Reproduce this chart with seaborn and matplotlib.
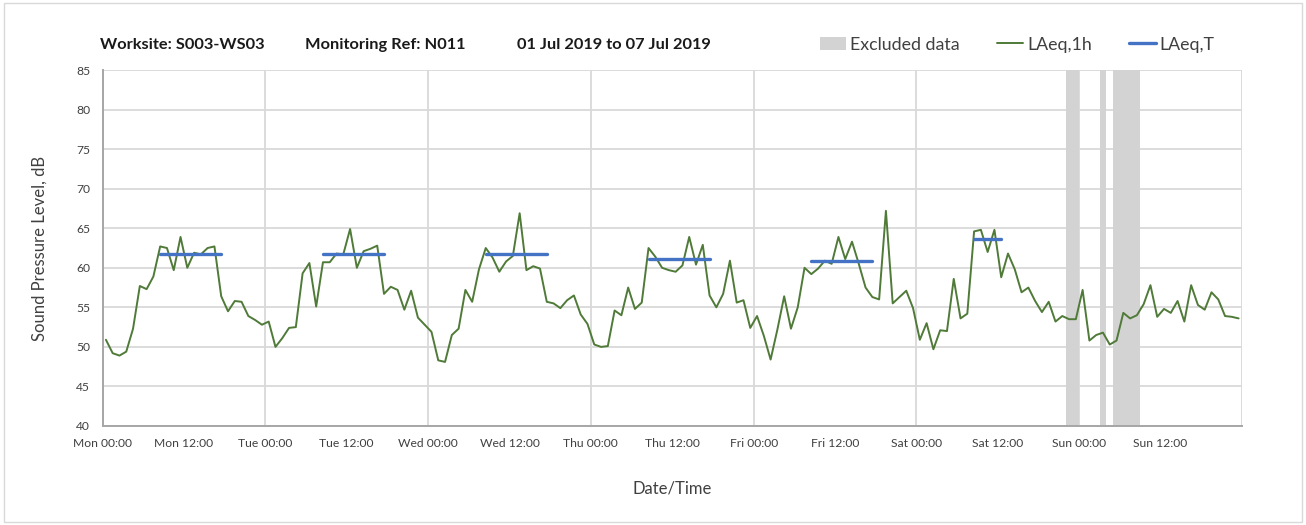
import numpy as np
import pandas as pd
import matplotlib
matplotlib.use("Agg")
import matplotlib.pyplot as plt
from matplotlib.patches import Rectangle, Patch
from matplotlib.lines import Line2D
import seaborn as sns

# ---------------- data ----------------
days = ["Mon", "Tue", "Wed", "Thu", "Fri", "Sat", "Sun"]

mon = [50.9, 49.2, 48.9, 49.4, 52.3, 57.7, 57.3, 58.9, 62.7, 62.5, 59.7, 63.9,
       60.0, 61.9, 61.7, 62.5, 62.7, 56.4, 54.5, 55.8, 55.7, 53.9, 53.4, 52.8]
tue = [53.2, 50.0, 51.1, 52.4, 52.5, 59.3, 60.6, 55.1, 60.7, 60.7, 61.8, 61.7,
       64.9, 60.0, 62.1, 62.4, 62.8, 56.7, 57.6, 57.2, 54.7, 57.1, 53.7, 52.8]
wed = [51.9, 48.3, 48.1, 51.5, 52.3, 57.2, 55.7, 59.8, 62.5, 61.3, 59.5, 60.8,
       61.5, 66.9, 59.7, 60.2, 59.9, 55.7, 55.5, 54.9, 55.9, 56.5, 54.1, 52.9]
thu = [50.3, 50.0, 50.1, 54.6, 54.0, 57.5, 54.8, 55.6, 62.5, 61.4, 60.0, 59.7,
       59.5, 60.3, 63.9, 60.4, 62.9, 56.5, 55.0, 56.7, 60.9, 55.6, 55.9, 52.4]
fri = [53.9, 51.4, 48.4, 52.2, 56.4, 52.3, 55.0, 60.0, 59.2, 59.9, 60.9, 60.5,
       63.9, 61.1, 63.3, 60.5, 57.5, 56.3, 56.0, 67.2, 55.5, 56.3, 57.1, 54.9]
sat = [50.9, 53.0, 49.7, 52.1, 52.0, 58.6, 53.6, 54.2, 64.6, 64.8, 62.0, 64.8,
       58.8, 61.8, 59.8, 56.9, 57.5, 55.8, 54.4, 55.7, 53.2, 53.9, 53.5, 53.5]
sun = [57.2, 50.8, 51.5, 51.8, 50.3, 50.8, 54.3, 53.6, 54.0, 55.4, 57.8, 53.8,
       54.8, 54.3, 55.8, 53.2, 57.8, 55.3, 54.7, 56.9, 56.0, 53.9, 53.8, 53.6]

# LAeq,T for the assessment period of each day (first hour, last hour)
laeq_t = [61.8, 61.8, 61.7, 61.1, 60.9, 63.6]
period_start = [8, 8, 8, 8, 8, 8]
period_end = [17, 17, 17, 17, 17, 12]

# excluded periods (hours from Mon 00:00)
excl_start = [142, 147, 149]
excl_end = [144, 148, 153]

title_parts = ["Worksite: S003-WS03", "Monitoring Ref: N011", "01 Jul 2019 to 07 Jul 2019"]

# ---------------- build tables ----------------
vals = mon + tue + wed + thu + fri + sat + sun
hours = np.arange(len(vals))
df = pd.DataFrame({"t": hours + 0.5, "level": vals})

rows = []
for d, (v, s, e) in enumerate(zip(laeq_t, period_start, period_end)):
    for h in range(s, e + 1):
        rows.append({"t": d * 24 + h + 0.5, "level": v, "day": d})
dft = pd.DataFrame(rows)

# ---------------- plot ----------------
sns.set_theme(style="white")
plt.rcParams["font.family"] = ["Lato", "DejaVu Sans"]

green = "#4f7a38"
blue = "#4472c4"
grey_band = "#d3d3d3"
grid_c = "#d9d9d9"
text_c = "#404040"

fig = plt.figure(figsize=(13.06, 5.25), dpi=100)
ax = fig.add_axes([0.0785, 0.1886, 0.8725, 0.678])

for s, e in zip(excl_start, excl_end):
    ax.axvspan(s, e, color=grey_band, lw=0, zorder=1)

sns.lineplot(data=df, x="t", y="level", ax=ax, color=green, lw=1.4, zorder=3)
sns.lineplot(data=dft, x="t", y="level", units="day", estimator=None, ax=ax,
             color=blue, lw=2.4, zorder=4)

ax.set_xlim(0, 168)
ax.set_ylim(40, 85)
ax.set_yticks(np.arange(40, 86, 5))

major = np.arange(0, 169, 24)
minor = np.arange(12, 168, 24)
ax.set_xticks(major)
ax.set_xticklabels([f"{d} 00:00" for d in days] + [""])
ax.set_xticks(minor, minor=True)
ax.set_xticklabels([f"{d} 12:00" for d in days], minor=True)

ax.grid(True, which="major", axis="both", color=grid_c, lw=1.3, zorder=0)
ax.grid(False, which="minor")
ax.set_axisbelow(True)

for side in ["top", "right"]:
    ax.spines[side].set_visible(False)
for side in ["left", "bottom"]:
    ax.spines[side].set_color("#a6a6a6")
    ax.spines[side].set_linewidth(1.4)

ax.tick_params(axis="both", which="both", direction="out", length=5,
               width=1.0, color="#a6a6a6", labelsize=8.7, labelcolor=text_c,
               pad=4)

ax.set_xlabel("Date/Time", fontsize=12, color=text_c, labelpad=22)
ax.set_ylabel("Sound Pressure Level, dB", fontsize=12, color=text_c, labelpad=20)

for xpos, txt in zip([0.0766, 0.2335, 0.396], title_parts):
    fig.text(xpos, 0.915, txt, fontsize=11.8, fontweight="bold", color="#1a1a1a",
             ha="left", va="center")

handles = [Patch(facecolor=grey_band, edgecolor="none", label="Excluded data"),
           Line2D([0], [0], color=green, lw=1.4, label="LAeq,1h"),
           Line2D([0], [0], color=blue, lw=2.4, label="LAeq,T")]
leg = fig.legend(handles=handles, loc="center right", bbox_to_anchor=(0.942, 0.915),
                 ncol=3, frameon=False, fontsize=12.8, handlelength=1.5,
                 handletextpad=0.2, columnspacing=2.1, labelcolor=text_c)

fig.patches.append(Rectangle((0.003, 0.006), 0.994, 0.988, transform=fig.transFigure,
                             fill=False, edgecolor="#d9d9d9", lw=1.0))

fig.savefig("out.png", dpi=100)
